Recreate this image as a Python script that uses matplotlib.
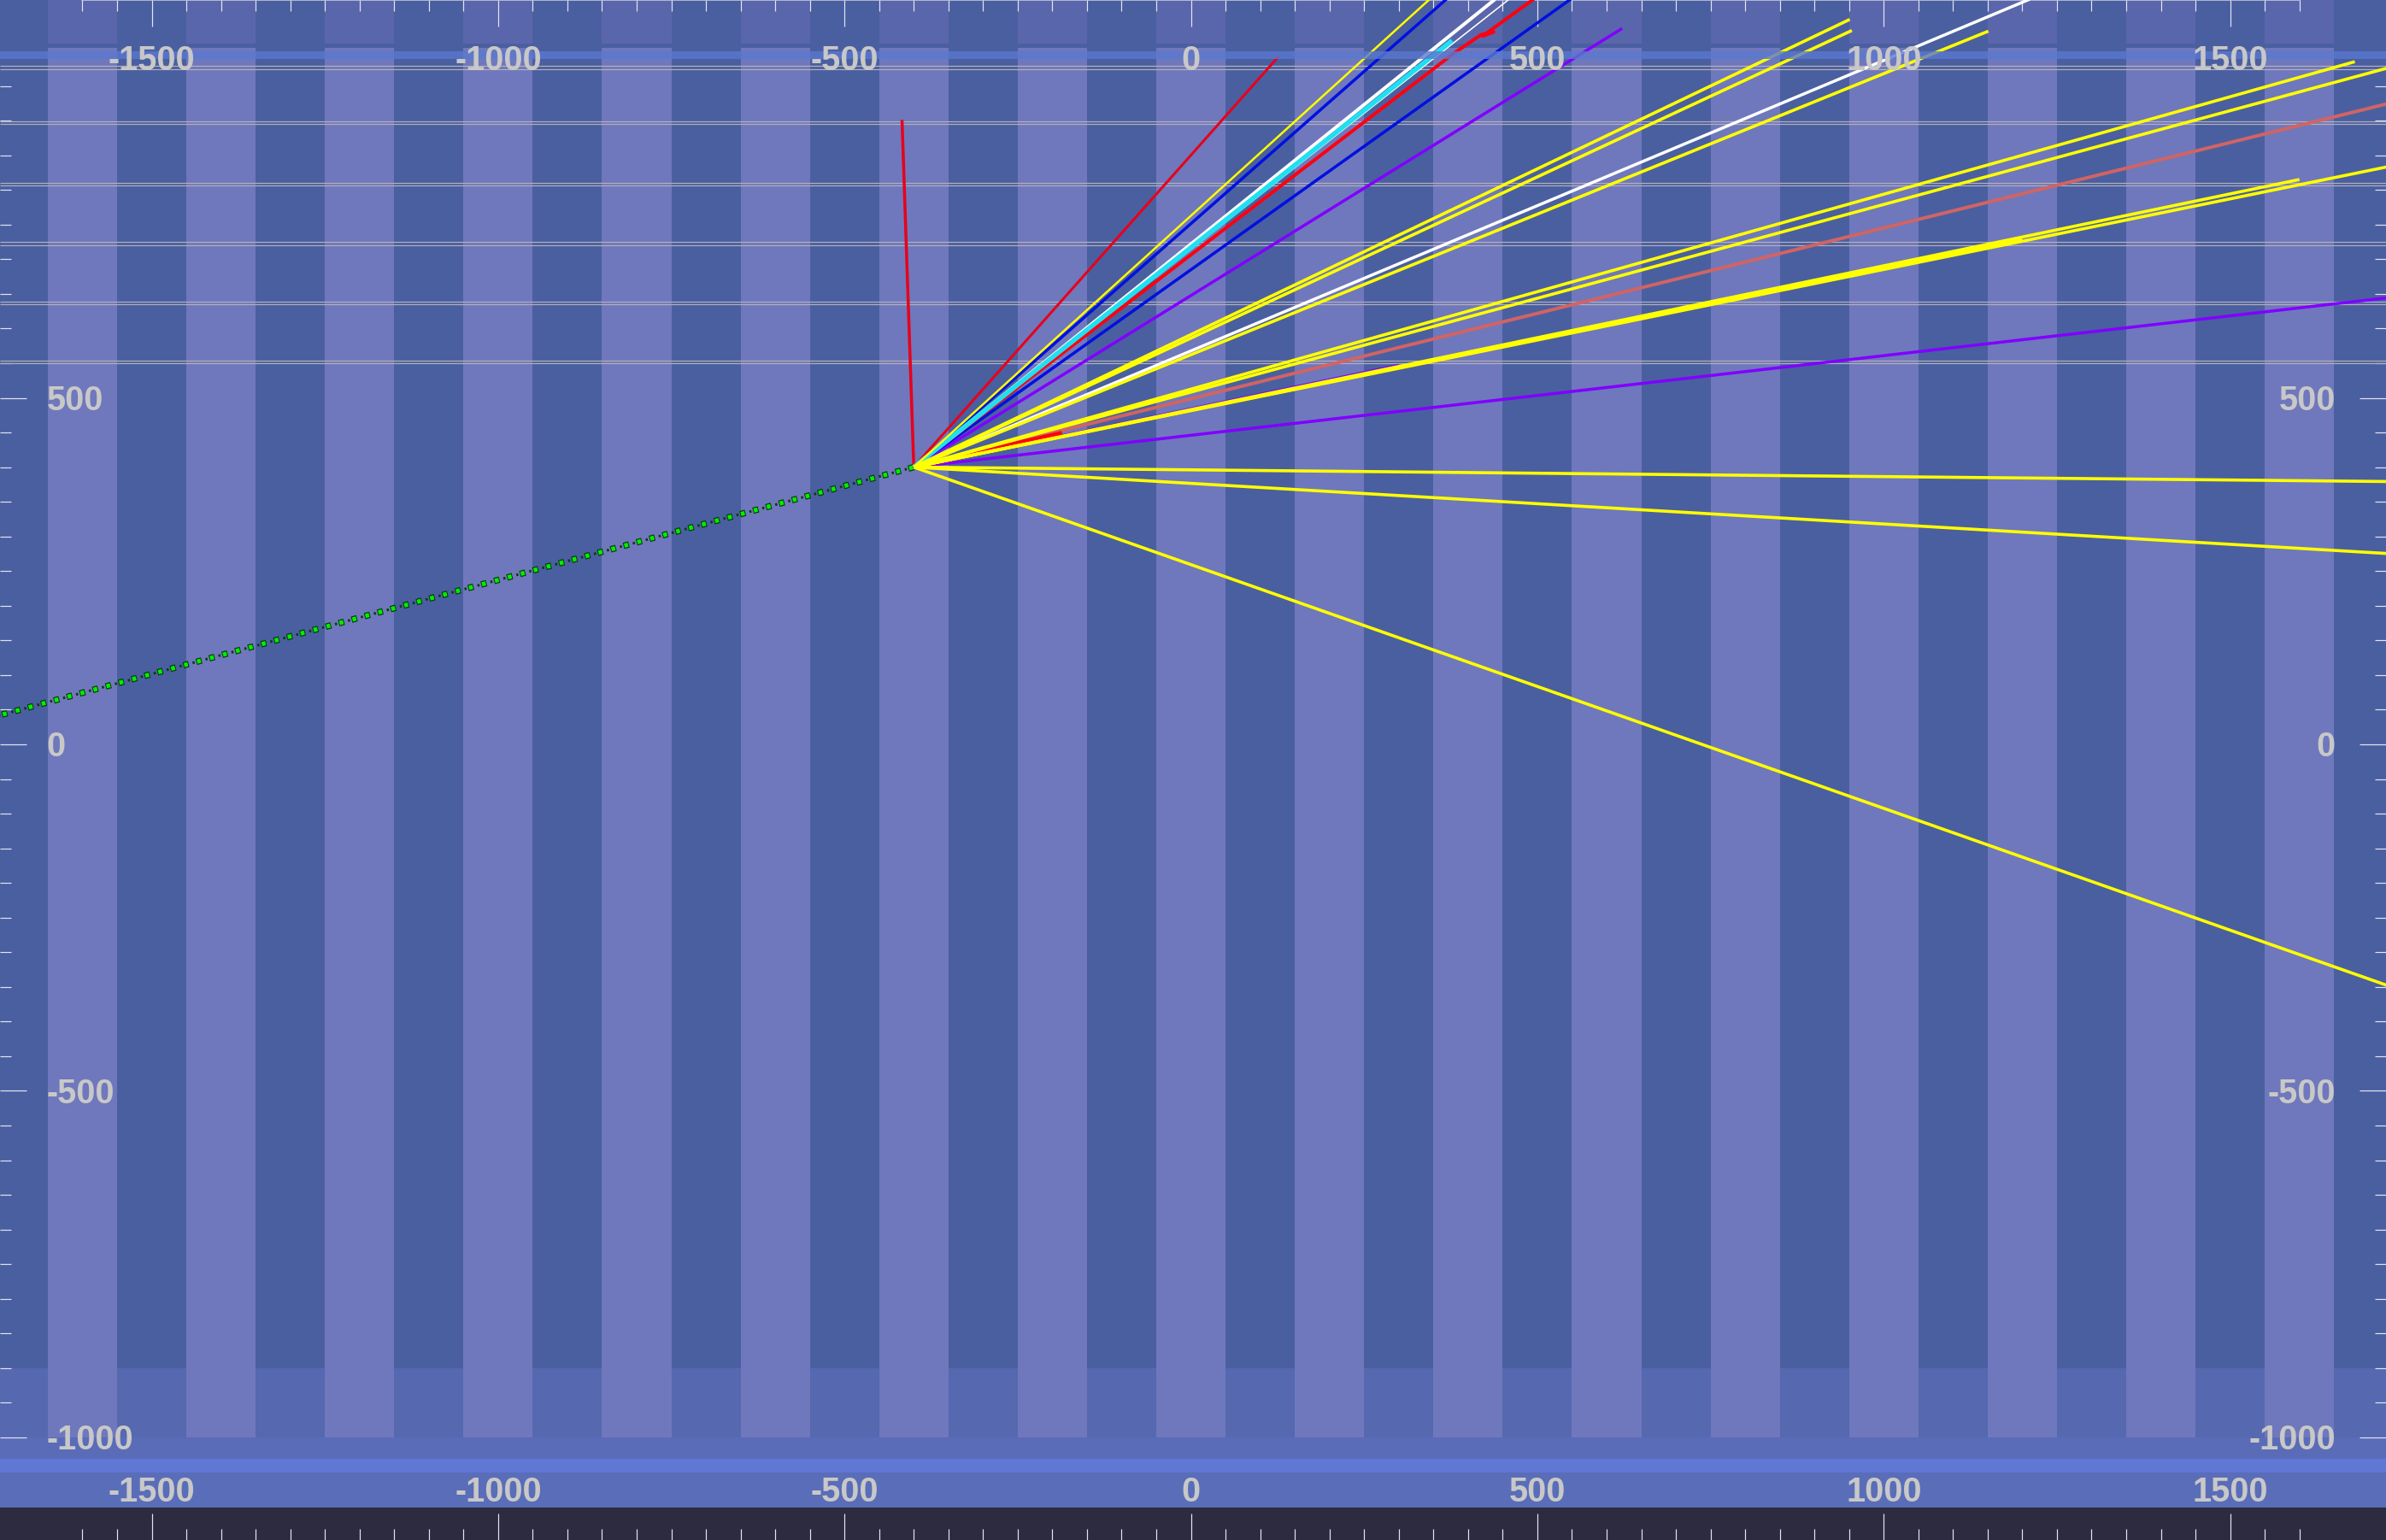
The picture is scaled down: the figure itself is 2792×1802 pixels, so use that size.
import numpy as np
import matplotlib
matplotlib.use("Agg")
import matplotlib.pyplot as plt

plt.rcParams["font.family"] = ["Liberation Sans", "DejaVu Sans"]
plt.rcParams["lines.scale_dashes"] = False
plt.rcParams["lines.solid_capstyle"] = "butt"

PX = 0.72  # one output pixel in points at dpi=100

# ── frame / tick values ─────────────────────────────────────
X_LIM = (-1719, 1725)
Y_LIM = (-1148, 1074)
X_LABELS = [-1500, -1000, -500, 0, 500, 1000, 1500]
Y_LABELS = [500, 0, -500, -1000]
X_MINOR = list(range(-1600, 1601, 50))
Y_MINOR = list(range(-1000, 951, 50))

# ── background stripes and guide lines ─────────────────────
STRIPE_CENTERS = list(range(-1600, 1601, 200))
GUIDE_Y = [979.4, 974.5, 898.8, 895.5, 810, 806, 724.7, 720.6, 639, 635, 554, 550]

# ── tracks, all starting from one origin ───────────────────
ORIGIN_X, ORIGIN_Y = -400, 400

YELLOW_END_X = [1750, 1750, 1750, 1600, 1750, 1200, 1680, 1750, 951, 954, 1151]
YELLOW_END_Y = [-356, 274, 379, 815, 838, 728, 985, 982, 1046, 1030, 1029]
YELLOW_THIN_END = (372, 1100)

WHITE_END_X = [1270, 470, 491]
WHITE_END_Y = [1100, 1100, 1100]
WHITE_WIDTH = [3.5, 4, 1.6]

CYAN_END = (377, 1015.5)

BLUE_END_X = [397, 583]
BLUE_END_Y = [1100, 1100]

PURPLE_END_X = [300, 622.5, 1750]
PURPLE_END_Y = [547, 1033, 647]

RED_END_X = [-417, 127]
RED_END_Y = [901, 993]
RED_WIDTH = [3.5, 3]
RED_SHORT_END = (-186, 449)
RED_TRACK_X = [-400, 378, 419, 437, 421, 493, 530]
RED_TRACK_Y = [400, 996, 1024, 1028, 1022, 1074, 1099]

SALMON_END = (1750, 930)
GREEN_END = (-1760, 31)

# ── colours ────────────────────────────────────────────────
DARK = "#4a5fa0"
LIGHT = "#6f78bc"
LABEL = "#c8c8c8"
TICK = "#e4e4f2"


fig = plt.figure(figsize=(27.92, 18.02), dpi=100)
ax = fig.add_axes([0, 0, 1, 1])
ax.set_xlim(*X_LIM)
ax.set_ylim(*Y_LIM)
ax.set_facecolor(DARK)

# bands
ax.axhspan(-1000, -900, color="#5568b0", lw=0, zorder=0.5)
ax.bar(STRIPE_CENTERS, 2005, bottom=-1000, width=100, color=LIGHT, lw=0, zorder=1)
ax.bar(STRIPE_CENTERS, 80, bottom=1011, width=100, color="#5a66ab", lw=0, zorder=1)
ax.axhspan(-1031, -1000, color="#5a6cb8", lw=0, zorder=1.5)
ax.axhspan(-1051, -1031, color="#6078d4", lw=0, zorder=1.5)
ax.axhspan(-1101.5, -1051, color="#5a6db8", lw=0, zorder=1.5)
ax.axhspan(-1160, -1101.5, color="#2c2b40", lw=0, zorder=1.5)

for gy in GUIDE_Y:
    ax.axhline(gy, color="#b4b0b8", lw=1.2 * PX, zorder=2)

# tracks
o = (ORIGIN_X, ORIGIN_Y)

def track(end, color, width, z=3):
    ax.plot([o[0], end[0]], [o[1], end[1]], color=color, lw=width * PX, zorder=z)

# green dotted track
gx, gy_ = [o[0], GREEN_END[0]], [o[1], GREEN_END[1]]
ax.plot(gx, gy_, color="#0b3a0b", lw=7.5 * PX, linestyle=(0, (6.5 * PX, 9.2 * PX)), zorder=3)
ax.plot(gx, gy_, color="#00f000", lw=5 * PX, linestyle=(14.7 * PX, (4.5 * PX, 11.2 * PX)),
        zorder=3.1)
ax.plot(gx, gy_, color="#0b3a0b", lw=3 * PX, linestyle=(7.2 * PX, (2.5 * PX, 13.2 * PX)),
        zorder=3)

for ex, ey in zip(PURPLE_END_X, PURPLE_END_Y):
    track((ex, ey), "#8000ff", 3.5)
for ex, ey in zip(BLUE_END_X, BLUE_END_Y):
    track((ex, ey), "#0010e0", 3.5)
for ex, ey, w in zip(RED_END_X, RED_END_Y, RED_WIDTH):
    track((ex, ey), "#e8001a", w)
track(SALMON_END, "#d06464", 4)
track(RED_SHORT_END, "#ff0010", 5.5, z=3.2)
ax.plot(RED_TRACK_X, RED_TRACK_Y, color="#ff0010", lw=4 * PX, zorder=3.3,
        solid_joinstyle="round")
for ex, ey, w in zip(WHITE_END_X, WHITE_END_Y, WHITE_WIDTH):
    track((ex, ey), "#ffffff", w, z=3.4)
track(CYAN_END, "#1fe0f0", 5.5, z=3.5)
for ex, ey in zip(YELLOW_END_X, YELLOW_END_Y):
    track((ex, ey), "#ffff00", 3.6, z=3.6)
track(YELLOW_THIN_END, "#ffff00", 2.5, z=3.6)

# translucent blue strip over the top of the tracks
ax.axhspan(989, 1000, color="#5a78d0", alpha=0.8, lw=0, zorder=5)

# ticks
ax.set_xticks(X_LABELS)
ax.set_xticks(X_MINOR, minor=True)
ax.set_yticks(Y_LABELS)
ax.set_yticks(Y_MINOR, minor=True)
ax.tick_params(which="both", direction="in", top=True, bottom=True, left=True, right=True,
               colors=TICK, width=1.2 * PX, labelbottom=False, labelleft=False)
ax.tick_params(which="major", length=31 * PX)
ax.tick_params(which="minor", length=13 * PX)
for side in ["bottom", "left", "right"]:
    ax.spines[side].set_visible(False)
ax.spines["top"].set_bounds(-1600, 1600)
ax.spines["top"].set_color("#d0d0e0")
ax.spines["top"].set_linewidth(1.5 * PX)

# labels
fs = 28.5
lab = dict(color=LABEL, fontsize=fs, fontweight="bold", va="center", zorder=6)
for v in X_LABELS:
    ax.text(v, 986.5, f"{v}", ha="center", **lab)
    ax.text(v, -1079, f"{v}", ha="center", **lab)
for v in Y_LABELS:
    ax.text(-1652, v - 4, f"{v}", ha="left", **lab)
    ax.text(1652, v - 4, f"{v}", ha="right", **lab)

fig.savefig("out.png", dpi=100, facecolor=DARK)
